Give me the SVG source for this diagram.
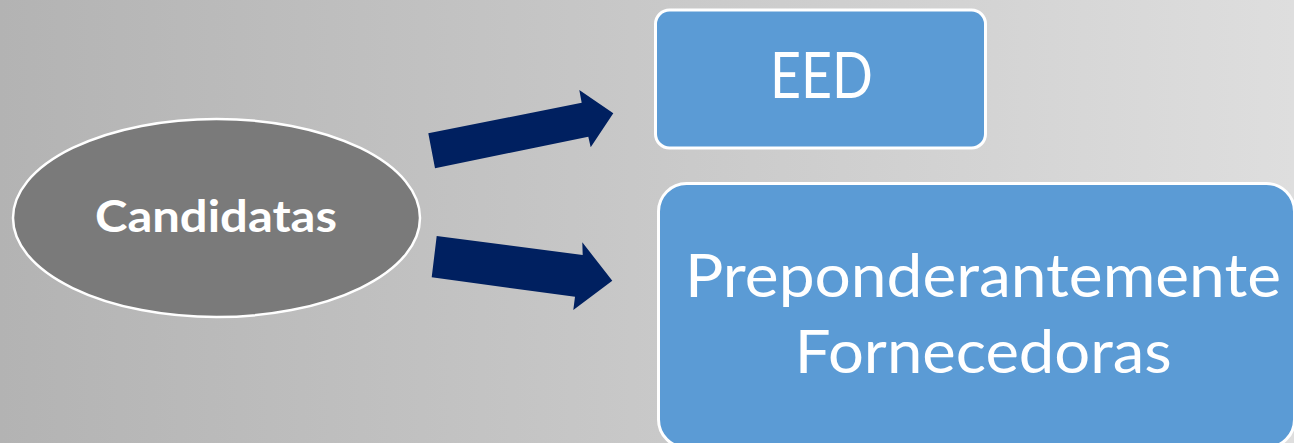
<svg xmlns="http://www.w3.org/2000/svg" width="1294" height="443" viewBox="0 0 1294 443">
<defs>
<linearGradient id="bg" x1="0" y1="0" x2="1" y2="0">
<stop offset="0" stop-color="#b3b3b3"/>
<stop offset="1" stop-color="#dedede"/>
</linearGradient>
</defs>
<style>
.box{fill:#5b9bd5;stroke:#ffffff;stroke-width:3}
.oval{fill:#7a7a7a;stroke:#ffffff;stroke-width:2.5}
.arrow{fill:#002060}
.t{fill:#ffffff;font-family:Lato,"Open Sans","Liberation Sans",sans-serif;text-anchor:middle}
.b{font-weight:bold}
</style>
<rect x="0" y="0" width="1294" height="443" fill="url(#bg)"/>
<g id="connectors">
<polygon class="arrow" points="428.3,133.3 581.7,102.7 579.3,90 613.3,113.3 590.7,147.3 588.3,136.7 435,168.3"/>
<polygon class="arrow" points="436.7,236 582.7,255 582.3,242.3 612.3,280.7 573.3,310 575,296.7 431.7,277.3"/>
</g>
<g id="node-candidatas">
<ellipse class="oval" cx="216.5" cy="218" rx="203.5" ry="99"/>
<text class="t b" x="216" y="231.7" font-size="44" textLength="242" lengthAdjust="spacingAndGlyphs">Candidatas</text>
</g>
<g id="node-eed">
<rect class="box" x="655.5" y="10" width="330" height="138" rx="14"/>
<text class="t" x="821.5" y="98.3" font-size="63" textLength="103" lengthAdjust="spacingAndGlyphs">EED</text>
</g>
<g id="node-preponderantemente">
<rect class="box" x="658.5" y="183.5" width="636" height="264" rx="28"/>
<text class="t" x="983" y="296.7" font-size="60" textLength="596" lengthAdjust="spacingAndGlyphs">Preponderantemente</text>
<text class="t" x="983.3" y="372.7" font-size="60" textLength="377" lengthAdjust="spacingAndGlyphs">Fornecedoras</text>
</g>
</svg>
